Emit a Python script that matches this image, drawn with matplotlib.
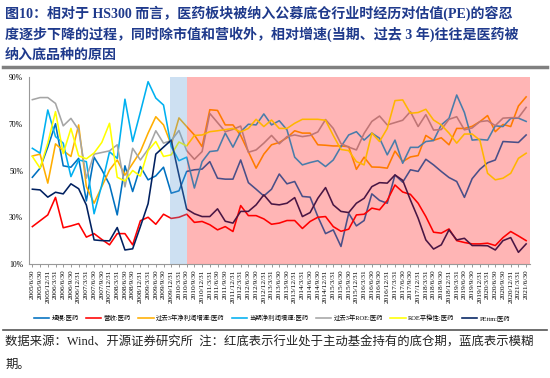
import matplotlib.pyplot as plt
from matplotlib.lines import Line2D

plt.rcParams['font.family'] = ['Liberation Serif', 'Noto Sans CJK SC']

# quarter-end dates 2005/6/30 .. 2021/6/30
years = list(range(2005, 2022))
quarter_ends = ["3/31", "6/30", "9/30", "12/31"]
dates = [f"{y}/{q}" for y in years for q in quarter_ends][1:-2]

# 规模:医药
scale = [47.1, 51, 60, 70, 52, 51.4, 55.2, 37, 55.7, 50.3, 44, 31, 52, 41, 51.7, 46, 47.7,
         51.4, 40.3, 41.3, 49.6, 50.3, 50.6, 53.8, 46.7, 46.3, 46.3, 54.5, 44.8, 42, 39.1, 42,
         48.5, 44.3, 45.3, 38.9, 38.6, 30.3, 23, 24.6, 17.5, 31.7, 26.3, 28.6, 40, 37.2, 36,
         48.1, 45, 50.3, 49.6, 54.8, 52.4, 49.6, 47, 45.3, 38.5, 46.5, 50.5, 53.3, 54.5, 62.4,
         62.2, 62, 65.2]
# 营收:医药
revenue = [26, 28.5, 31, 38.5, 25.5, 26.3, 27.3, 21.5, 23, 20.5, 18.2, 23, 23, 18.2, 28.5, 30,
           27, 31.3, 29.5, 30, 31.3, 27.8, 28.2, 26.8, 24.6, 26, 23.9, 35, 30.7, 30.7, 29.3, 27,
           27.5, 28.6, 28.6, 25.2, 28.2, 30, 30.3, 26, 24, 24.9, 31, 31.3, 33.9, 33.2, 37.2,
           43.8, 40.8, 39.8, 36, 30.3, 23.6, 23.2, 25, 20, 19.2, 18.6, 18.6, 18.9, 17.9, 21.3,
           23.9, 22, 20]
# 过去3年净利润增速:医药
np_growth_3y = [56.2, 57, 44.6, 61.4, 58.5, 56, 69.5, 43.1, 36, 43.1, 50.2, 54.5, 48, 53, 58.1,
                66, 73, 69.5, 61, 72.5, 68.8, 65.2, 60.2, 76, 75.7, 69.5, 69.5, 65, 58, 51, 57,
                61, 62, 64, 67, 66, 66, 61, 60.8, 60.5, 60.5, 60.2, 50.5, 55.7, 51.5, 51.4, 51,
                58.3, 53.8, 55.8, 56.4, 65, 62.9, 64, 61, 68, 68, 68.9, 70.9, 73.5, 66.6, 69.7,
                68.8, 77.6, 81.5]
# 当期净利润增速:医药
np_growth_cur = [59.5, 57.4, 75.9, 64.5, 61.7, 47.4, 54.5, 53.8, 31.5, 43.8, 58, 55.2, 80.5,
                 62.4, 75, 88, 81, 78, 60.2, 54.2, 55.7, 42.5, 53.8, 58.1, 58.5, 66, 60, 66.6,
                 69.8, 69.5, 74.2, 69.5, 71.3, 67.4, 55.7, 52.4, 53.4, 54.2, 51.7, 54.5, 60.2,
                 65.2, 66.6, 63, 66, 63.8, 56.7, 63, 53.1, 59.9, 59.9, 62.4, 62.8, 69.5, 72.3,
                 82.3, 74.8, 63, 63.3, 63, 69.1, 68.8, 72.3, 72.4, 71]
# 过去3年ROE:医药
roe_3y = [80.3, 81.2, 81.2, 78.7, 69.1, 72.3, 67.4, 46.7, 57, 57.7, 58.4, 61, 43, 59.5, 54.5,
          59.1, 67, 61.7, 62.8, 67.1, 58.5, 54.8, 58.1, 74.4, 70.5, 66.6, 67.6, 69, 57.8, 58.8,
          61.7, 65, 61.4, 64.5, 65.2, 64.5, 65, 66.5, 71.8, 68, 61.5, 60, 58.8, 65.9, 71, 73.3,
          69.5, 70.5, 71.5, 75.2, 68.8, 73.9, 67.3, 67.5, 71.9, 73, 67.4, 68.2, 70.9, 71.3,
          69.2, 72.4, 72.6, 72.6, 77]
# ROE平稳性:医药
roe_stab = [56, 51, 61.7, 75.2, 57.2, 68, 56.3, 55, 57.5, 62, 70.2, 47.1, 45.5, 50, 47.6, 58.5,
            62.4, 56, 56.7, 62.2, 60.5, 65, 65.2, 66.6, 67, 67.5, 68, 66.5, 68, 71.9, 68.8, 71.6,
            68, 68, 70.2, 71.9, 71.9, 71.9, 71.5, 65, 59, 58.5, 53.8, 52.4, 66, 62.4, 68, 79.9,
            80.2, 74.5, 74.8, 76.2, 71.6, 69.5, 66, 61.7, 65.6, 65.6, 63, 48.8, 46, 46.7, 48.8,
            55.2, 57.4]
# PEttm:医药
pe_ttm = [42, 41.7, 38.6, 40.7, 40, 44.3, 42.2, 35.2, 20.3, 20, 19.9, 25.6, 16, 16.5, 26, 35.8,
          57, 60, 63, 48, 33.5, 31.5, 30.3, 30.3, 33.6, 28.3, 27.5, 32.5, 32.5, 35.3, 39.6,
          35.7, 35.3, 36, 38.4, 30.3, 32, 38.1, 42.7, 35.3, 32.5, 32, 36, 38.1, 43.1, 44.8,
          44.6, 48.1, 45.8, 37.4, 29.6, 20.3, 16.4, 18.2, 24.6, 20.3, 21, 17.9, 17.9, 17.8, 16,
          20, 21.3, 15, 18.6]

series = [
    ("规模:医药", scale, "#0070C0"),
    ("营收:医药", revenue, "#FF0000"),
    ("过去3年净利润增速:医药", np_growth_3y, "#FFAE00"),
    ("当期净利润增速:医药", np_growth_cur, "#00B0F0"),
    ("过去3年ROE:医药", roe_3y, "#A5A5A5"),
    ("ROE平稳性:医药", roe_stab, "#FFFF00"),
    ("PEttm:医药", pe_ttm, "#002060"),
]

W, H = 550, 378
fig = plt.figure(figsize=(5.5, 3.78), dpi=100)
ax = fig.add_axes([28.5 / W, 1 - 264 / H, (530 - 28.5) / W, (264 - 77) / H])

x = range(len(dates))
for name, vals, col in series:
    ax.plot(x, vals, color=col, lw=1.15, label=name, zorder=2)

# fuzzy period (blue) and bottom-position period (red), drawn over the lines
ax.axvspan(17.85, 20.05, color="#5B9BD5", alpha=0.3, lw=0, zorder=4)
ax.axvspan(20.05, 64.5, color="#FF0000", alpha=0.29, lw=0, zorder=4)

ax.set_xlim(-0.5, 64.5)
ax.set_ylim(10, 90)
ax.set_yticks([10, 30, 50, 70, 90])
ax.set_yticklabels(["10%", "30%", "50%", "70%", "90%"], fontsize=5.5)
ax.set_xticks(list(x))
ax.set_xticklabels(dates, rotation=90, fontsize=5.3)
ax.tick_params(axis="y", length=0, pad=4)
ax.tick_params(axis="x", length=2, width=0.6, color="#888888", pad=2)
for s in ["top", "right"]:
    ax.spines[s].set_visible(False)
for s in ["left", "bottom"]:
    ax.spines[s].set_color("#999999")
    ax.spines[s].set_linewidth(0.8)

fig.legend(loc="center", bbox_to_anchor=(272 / W, 1 - 318 / H), ncol=7, frameon=False,
           fontsize=4.6, handlelength=2.4, handletextpad=0.4, columnspacing=1.1)

title_lines = [
    "图10：相对于 HS300 而言，医药板块被纳入公募底仓行业时经历对估值(PE)的容忍",
    "度逐步下降的过程，同时除市值和营收外，相对增速(当期、过去 3 年)往往是医药被",
    "纳入底品种的原因",
]
for k, t in enumerate(title_lines):
    fig.text(5 / W, 1 - (13 + 21 * k) / H, t, fontsize=10.1, fontweight="bold",
             color="#1F3A8C", va="center", ha="left")

fig.add_artist(Line2D([3 / W, 547 / W], [1 - 67 / H] * 2, color="#808080", lw=2.5))
fig.add_artist(Line2D([3 / W, 547 / W], [1 - 330 / H] * 2, color="#555555", lw=1.2))

fig.text(5 / W, 1 - 343 / H,
         "数据来源：Wind、开源证券研究所  注：红底表示行业处于主动基金持有的底仓期，蓝底表示模糊",
         fontsize=8.9, color="#222222", va="center", ha="left")
fig.text(5 / W, 1 - 365 / H, "期。", fontsize=8.9, color="#222222", va="center", ha="left")

fig.savefig("out.png", dpi=100)
